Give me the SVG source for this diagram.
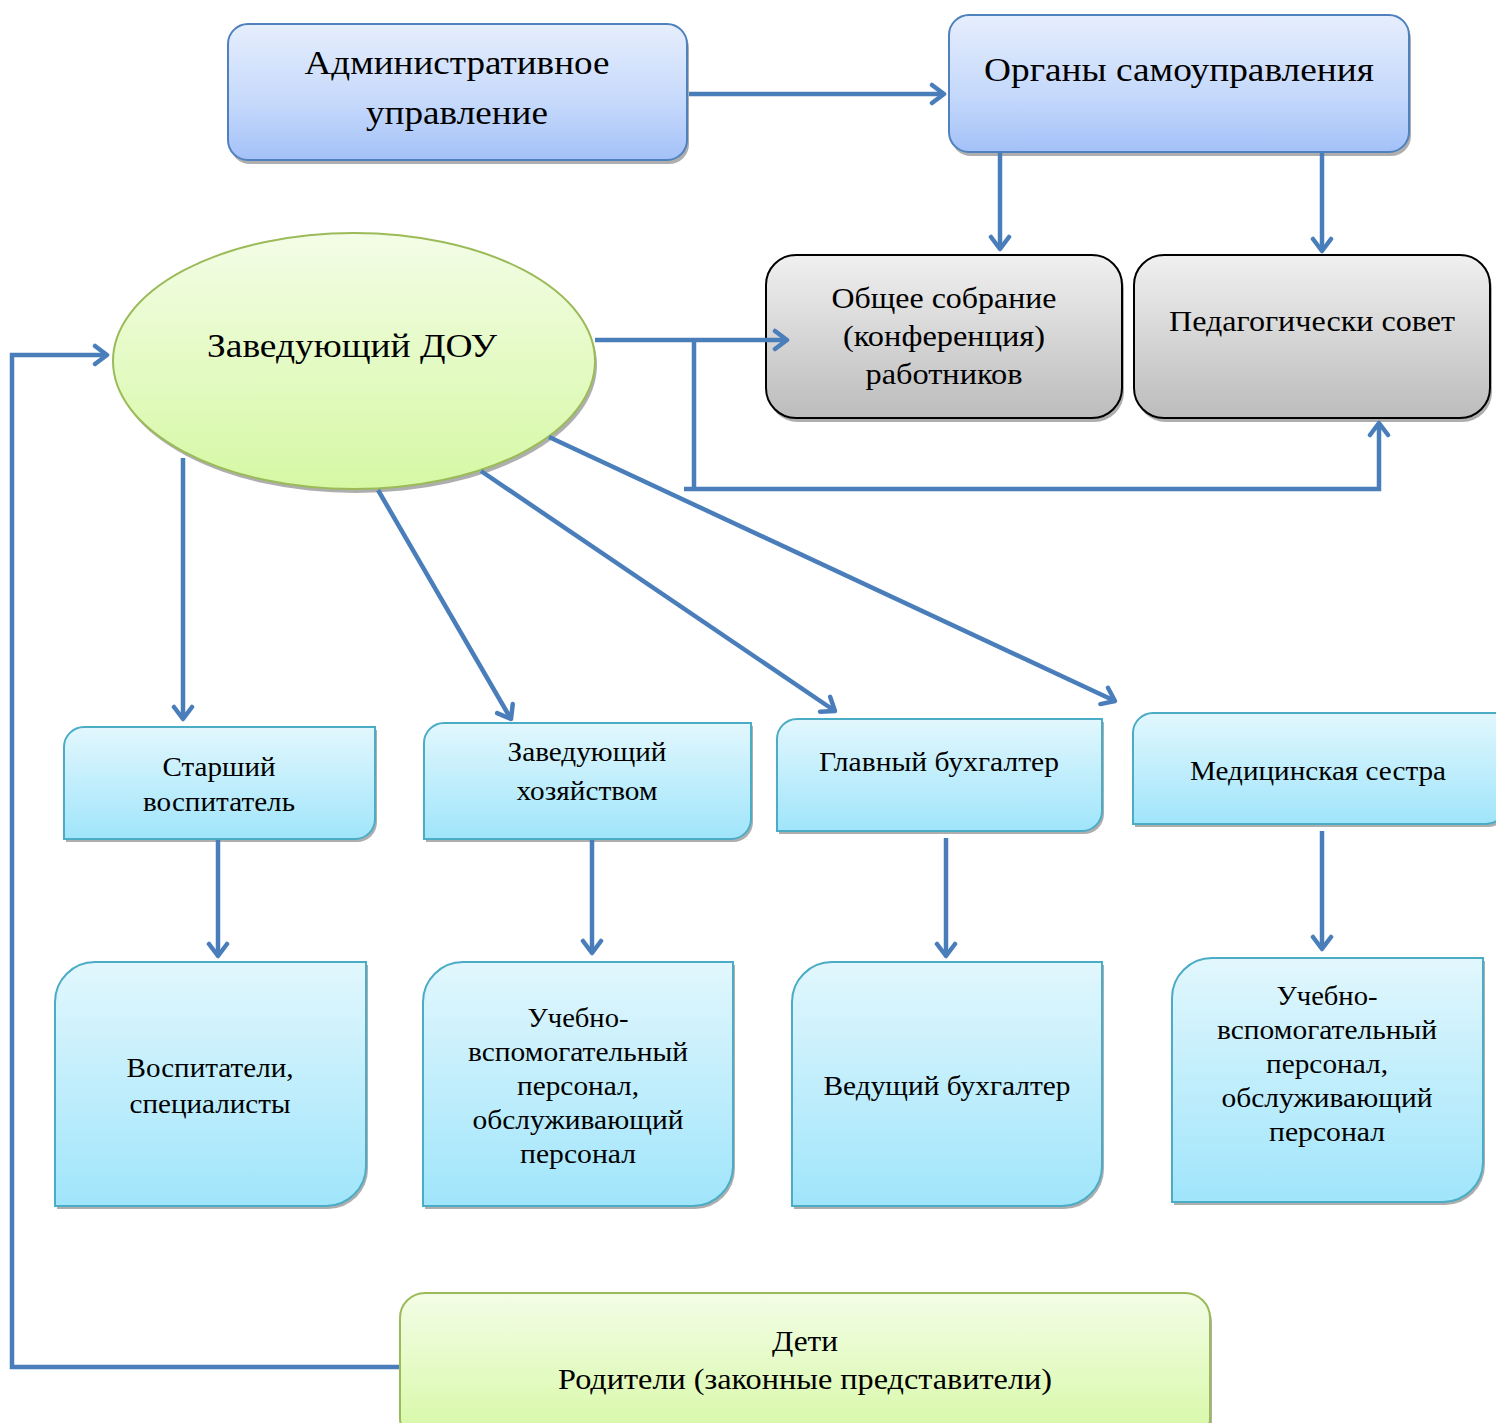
<svg xmlns="http://www.w3.org/2000/svg" width="1496" height="1423" viewBox="0 0 1496 1423">
<style>
text{font-family:"Liberation Serif","Times New Roman",serif;fill:#000;text-anchor:middle}
.conn{fill:none;stroke:#4a7ebb;stroke-width:4.5}
.sh{fill:#8c8c8c;opacity:0.7}
.blue{fill:url(#gBlue);stroke:#4f81bd;stroke-width:2}
.gray{fill:url(#gGray);stroke:#000;stroke-width:2}
.cyan{fill:url(#gCyan);stroke:#4bacc6;stroke-width:2}
.green{fill:url(#gGreen);stroke:#9bbb59;stroke-width:2}
.t34{font-size:34px}
.t30{font-size:30px}
.t28{font-size:28px}
</style>
<defs>
<linearGradient id="gBlue" x1="0" y1="0" x2="0" y2="1"><stop offset="0" stop-color="#e6eefd"/><stop offset="0.6" stop-color="#c4d8fb"/><stop offset="1" stop-color="#a3c1f8"/></linearGradient>
<linearGradient id="gGray" x1="0" y1="0" x2="0" y2="1"><stop offset="0" stop-color="#f0f0f0"/><stop offset="1" stop-color="#bcbcbc"/></linearGradient>
<linearGradient id="gCyan" x1="0" y1="0" x2="0" y2="1"><stop offset="0" stop-color="#e2f7fd"/><stop offset="1" stop-color="#a0e5fb"/></linearGradient>
<linearGradient id="gGreen" x1="0" y1="0" x2="0" y2="1"><stop offset="0" stop-color="#f3fde6"/><stop offset="1" stop-color="#d6f8a4"/></linearGradient>
<marker id="arr" markerUnits="userSpaceOnUse" markerWidth="24" markerHeight="24" viewBox="0 0 24 24" refX="20" refY="12" orient="auto">
<path d="M8,3 L20,12 L8,21" fill="none" stroke="#4a7ebb" stroke-width="4.5" stroke-linecap="round" stroke-linejoin="round"/>
</marker>
</defs>

<g id="admin">
<rect class="sh" x="230" y="28" width="459" height="136" rx="20"/>
<rect class="blue" x="228" y="24" width="459" height="136" rx="20"/>
<text class="t34" x="457" y="74" textLength="305" lengthAdjust="spacingAndGlyphs">Административное</text>
<text class="t34" x="457" y="124" textLength="182" lengthAdjust="spacingAndGlyphs">управление</text>
</g>

<g id="organs">
<rect class="sh" x="951" y="19" width="460" height="137" rx="20"/>
<rect class="blue" x="949" y="15" width="460" height="137" rx="20"/>
<text class="t34" x="1179" y="81" textLength="390" lengthAdjust="spacingAndGlyphs">Органы самоуправления</text>
</g>

<g id="obschee">
<rect class="sh" x="768" y="259" width="356" height="163" rx="30"/>
<rect class="gray" x="766" y="255" width="356" height="163" rx="30"/>
<text class="t30" x="944" y="308" textLength="225" lengthAdjust="spacingAndGlyphs">Общее собрание</text>
<text class="t30" x="944" y="346" textLength="202" lengthAdjust="spacingAndGlyphs">(конференция)</text>
<text class="t30" x="944" y="384" textLength="157" lengthAdjust="spacingAndGlyphs">работников</text>
</g>

<g id="pedsovet">
<rect class="sh" x="1136" y="259" width="356" height="163" rx="30"/>
<rect class="gray" x="1134" y="255" width="356" height="163" rx="30"/>
<text class="t30" x="1312" y="331" textLength="286" lengthAdjust="spacingAndGlyphs">Педагогически совет</text>
</g>

<g id="zaveduyuschiy-dou">
<ellipse class="sh" cx="356" cy="365" rx="241" ry="128"/>
<ellipse class="green" cx="354" cy="361" rx="241" ry="128"/>
<text class="t34" x="352" y="357" textLength="290" lengthAdjust="spacingAndGlyphs">Заведующий ДОУ</text>
</g>

<g id="starshiy">
<path class="sh" d="M66,750 A20,20 0 0 1 86,730 H377 V822 A20,20 0 0 1 357,842 H66 Z"/>
<path class="cyan" d="M64,747 A20,20 0 0 1 84,727 H375 V819 A20,20 0 0 1 355,839 H64 Z"/>
<text class="t28" x="219" y="776" textLength="113" lengthAdjust="spacingAndGlyphs">Старший</text>
<text class="t28" x="219" y="811" textLength="152" lengthAdjust="spacingAndGlyphs">воспитатель</text>
</g>

<g id="zavhoz">
<path class="sh" d="M426,746 A20,20 0 0 1 446,726 H753 V822 A20,20 0 0 1 733,842 H426 Z"/>
<path class="cyan" d="M424,743 A20,20 0 0 1 444,723 H751 V819 A20,20 0 0 1 731,839 H424 Z"/>
<text class="t28" x="587" y="761" textLength="159" lengthAdjust="spacingAndGlyphs">Заведующий</text>
<text class="t28" x="587" y="800" textLength="141" lengthAdjust="spacingAndGlyphs">хозяйством</text>
</g>

<g id="glavbuh">
<path class="sh" d="M779,742 A20,20 0 0 1 799,722 H1104 V814 A20,20 0 0 1 1084,834 H779 Z"/>
<path class="cyan" d="M777,739 A20,20 0 0 1 797,719 H1102 V811 A20,20 0 0 1 1082,831 H777 Z"/>
<text class="t28" x="939" y="771" textLength="240" lengthAdjust="spacingAndGlyphs">Главный бухгалтер</text>
</g>

<g id="medsestra">
<path class="sh" d="M1135,736 A20,20 0 0 1 1155,716 H1508 V807 A20,20 0 0 1 1488,827 H1135 Z"/>
<path class="cyan" d="M1133,733 A20,20 0 0 1 1153,713 H1506 V804 A20,20 0 0 1 1486,824 H1133 Z"/>
<text class="t28" x="1318" y="780" textLength="256" lengthAdjust="spacingAndGlyphs">Медицинская сестра</text>
</g>

<g id="vospitateli">
<path class="sh" d="M57,1005 A40,40 0 0 1 97,965 H368 V1169 A40,40 0 0 1 328,1209 H57 Z"/>
<path class="cyan" d="M55,1002 A40,40 0 0 1 95,962 H366 V1166 A40,40 0 0 1 326,1206 H55 Z"/>
<text class="t28" x="210" y="1077" textLength="167" lengthAdjust="spacingAndGlyphs">Воспитатели,</text>
<text class="t28" x="210" y="1113" textLength="161" lengthAdjust="spacingAndGlyphs">специалисты</text>
</g>

<g id="uvp1">
<path class="sh" d="M425,1005 A40,40 0 0 1 465,965 H735 V1169 A40,40 0 0 1 695,1209 H425 Z"/>
<path class="cyan" d="M423,1002 A40,40 0 0 1 463,962 H733 V1166 A40,40 0 0 1 693,1206 H423 Z"/>
<text class="t28" x="578" y="1027" textLength="101" lengthAdjust="spacingAndGlyphs">Учебно-</text>
<text class="t28" x="578" y="1061" textLength="220" lengthAdjust="spacingAndGlyphs">вспомогательный</text>
<text class="t28" x="578" y="1095" textLength="122" lengthAdjust="spacingAndGlyphs">персонал,</text>
<text class="t28" x="578" y="1129" textLength="211" lengthAdjust="spacingAndGlyphs">обслуживающий</text>
<text class="t28" x="578" y="1163" textLength="116" lengthAdjust="spacingAndGlyphs">персонал</text>
</g>

<g id="vedbuh">
<path class="sh" d="M794,1005 A40,40 0 0 1 834,965 H1104 V1169 A40,40 0 0 1 1064,1209 H794 Z"/>
<path class="cyan" d="M792,1002 A40,40 0 0 1 832,962 H1102 V1166 A40,40 0 0 1 1062,1206 H792 Z"/>
<text class="t28" x="947" y="1095" textLength="247" lengthAdjust="spacingAndGlyphs">Ведущий бухгалтер</text>
</g>

<g id="uvp2">
<path class="sh" d="M1174,1001 A40,40 0 0 1 1214,961 H1485 V1165 A40,40 0 0 1 1445,1205 H1174 Z"/>
<path class="cyan" d="M1172,998 A40,40 0 0 1 1212,958 H1483 V1162 A40,40 0 0 1 1443,1202 H1172 Z"/>
<text class="t28" x="1327" y="1005" textLength="101" lengthAdjust="spacingAndGlyphs">Учебно-</text>
<text class="t28" x="1327" y="1039" textLength="220" lengthAdjust="spacingAndGlyphs">вспомогательный</text>
<text class="t28" x="1327" y="1073" textLength="122" lengthAdjust="spacingAndGlyphs">персонал,</text>
<text class="t28" x="1327" y="1107" textLength="211" lengthAdjust="spacingAndGlyphs">обслуживающий</text>
<text class="t28" x="1327" y="1141" textLength="116" lengthAdjust="spacingAndGlyphs">персонал</text>
</g>

<g id="deti">
<rect class="sh" x="402" y="1297" width="810" height="150" rx="25"/>
<rect class="green" x="400" y="1293" width="810" height="150" rx="25"/>
<text class="t30" x="805" y="1351" textLength="66" lengthAdjust="spacingAndGlyphs">Дети</text>
<text class="t30" x="805" y="1389" textLength="494" lengthAdjust="spacingAndGlyphs">Родители (законные представители)</text>
</g>

<g id="connectors">
<line class="conn" x1="689" y1="94" x2="944" y2="94" marker-end="url(#arr)"/>
<line class="conn" x1="1000" y1="153" x2="1000" y2="249" marker-end="url(#arr)"/>
<line class="conn" x1="1322" y1="153" x2="1322" y2="251" marker-end="url(#arr)"/>
<line class="conn" x1="595" y1="340" x2="787" y2="340" marker-end="url(#arr)"/>
<polyline class="conn" points="694,340 694,489"/>
<polyline class="conn" points="684,489 1379,489 1379,423" marker-end="url(#arr)"/>
<polyline class="conn" points="399,1367 12,1367 12,355 107,355" marker-end="url(#arr)"/>
<line class="conn" x1="183" y1="458" x2="183" y2="719" marker-end="url(#arr)"/>
<line class="conn" x1="378" y1="490" x2="511" y2="719" marker-end="url(#arr)"/>
<line class="conn" x1="481" y1="471" x2="835" y2="711" marker-end="url(#arr)"/>
<line class="conn" x1="549" y1="437" x2="1115" y2="701" marker-end="url(#arr)"/>
<line class="conn" x1="218" y1="840" x2="218" y2="956" marker-end="url(#arr)"/>
<line class="conn" x1="592" y1="840" x2="592" y2="953" marker-end="url(#arr)"/>
<line class="conn" x1="946" y1="838" x2="946" y2="956" marker-end="url(#arr)"/>
<line class="conn" x1="1322" y1="831" x2="1322" y2="949" marker-end="url(#arr)"/>
</g>
</svg>
